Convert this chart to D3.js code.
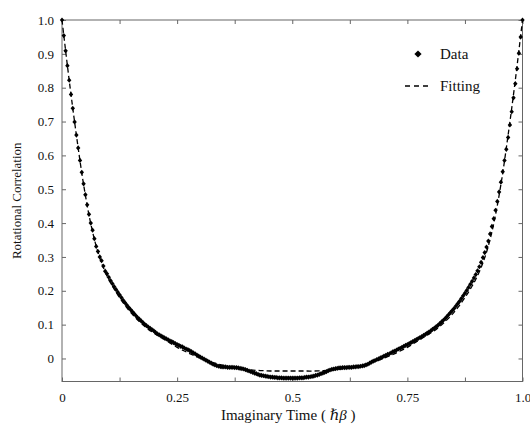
<!DOCTYPE html>
<html>
<head>
<meta charset="utf-8">
<script src="https://cdn.jsdelivr.net/npm/d3@7"></script>
<style>
  html, body { margin: 0; padding: 0; background: #fff; }
  svg { display: block; }
  svg text { font-family: "Liberation Serif", "DejaVu Serif", "Times New Roman", serif !important; fill: #111; }
</style>
</head>
<body>
<svg id="chart" width="530" height="429"></svg>
<script>
// ---------------- data ----------------
const timeSlices = 256; // data points at t = i / 256 (in units of ħβ)
const dataValues = [
  1.000, 0.954, 0.909, 0.865, 0.822, 0.780, 0.739, 0.699, 0.660, 0.622,
  0.585, 0.550, 0.516, 0.484, 0.454, 0.426, 0.400, 0.379, 0.354, 0.331,
  0.316, 0.300, 0.289, 0.273, 0.258, 0.250, 0.240, 0.230, 0.221, 0.212,
  0.204, 0.196, 0.188, 0.180, 0.172, 0.165, 0.158, 0.151, 0.145, 0.139,
  0.133, 0.127, 0.121, 0.116, 0.111, 0.106, 0.101, 0.097, 0.093, 0.089,
  0.085, 0.082, 0.077, 0.073, 0.070, 0.067, 0.064, 0.061, 0.058, 0.055,
  0.052, 0.050, 0.047, 0.044, 0.041, 0.039, 0.036, 0.034, 0.031, 0.028,
  0.026, 0.023, 0.020, 0.017, 0.014, 0.010, 0.007, 0.004, 0.001, -0.002,
  -0.005, -0.008, -0.011, -0.014, -0.017, -0.019, -0.021, -0.023, -0.024, -0.025,
  -0.025, -0.025, -0.026, -0.026, -0.026, -0.026, -0.027, -0.027, -0.028, -0.029,
  -0.030, -0.031, -0.033, -0.035, -0.037, -0.039, -0.041, -0.043, -0.045, -0.047,
  -0.049, -0.050, -0.051, -0.052, -0.053, -0.054, -0.055, -0.055, -0.056, -0.056,
  -0.057, -0.057, -0.057, -0.058, -0.058, -0.058, -0.058, -0.058, -0.058,
  -0.058, -0.058, -0.058, -0.057, -0.057, -0.057, -0.056, -0.055, -0.055, -0.054,
  -0.053, -0.052, -0.050, -0.049, -0.047, -0.045, -0.043, -0.041, -0.039, -0.036,
  -0.034, -0.032, -0.031, -0.030, -0.029, -0.028, -0.028, -0.027, -0.027, -0.027,
  -0.026, -0.026, -0.026, -0.025, -0.025, -0.024, -0.024, -0.023, -0.022, -0.021,
  -0.019, -0.017, -0.014, -0.011, -0.008, -0.006, -0.003, -0.001, 0.002, 0.004,
  0.007, 0.009, 0.012, 0.014, 0.017, 0.020, 0.022, 0.025, 0.028, 0.030,
  0.033, 0.036, 0.039, 0.041, 0.044, 0.047, 0.050, 0.053, 0.056, 0.059,
  0.062, 0.065, 0.068, 0.071, 0.075, 0.078, 0.082, 0.086, 0.090, 0.094,
  0.098, 0.103, 0.108, 0.113, 0.118, 0.124, 0.130, 0.136, 0.142, 0.148,
  0.155, 0.162, 0.169, 0.177, 0.185, 0.193, 0.201, 0.210, 0.219, 0.228,
  0.238, 0.248, 0.259, 0.271, 0.284, 0.298, 0.313, 0.329, 0.347, 0.368,
  0.390, 0.413, 0.438, 0.464, 0.492, 0.521, 0.552, 0.585, 0.618, 0.653,
  0.690, 0.729, 0.770, 0.812, 0.856, 0.902, 0.950, 1.000
];

const fitSteps = 64; // fitting curve sampled at t = k / 64
const fitValues = [
  1.000, 0.822, 0.660, 0.514, 0.398, 0.314, 0.256, 0.214, 0.180, 0.150,
  0.125, 0.104, 0.086, 0.072, 0.059, 0.046, 0.033, 0.022, 0.012, 0.003,
  -0.005, -0.012, -0.018, -0.023, -0.027, -0.030, -0.033, -0.035, -0.036, -0.037,
  -0.037, -0.037, -0.037, -0.037, -0.037, -0.037, -0.036, -0.035, -0.033, -0.030,
  -0.027, -0.023, -0.018, -0.012, -0.005, 0.003, 0.012, 0.022, 0.033, 0.046,
  0.059, 0.072, 0.086, 0.104, 0.125, 0.150, 0.180, 0.214, 0.256, 0.314,
  0.398, 0.514, 0.660, 0.822, 1.000
];

const xTickValues = [0, 0.125, 0.25, 0.375, 0.5, 0.625, 0.75, 0.875, 1.0];
const xTickLabels = ["0", "", "0.25", "", "0.5", "", "0.75", "", "1.0"];
const yTickValues = [0, 0.1, 0.2, 0.3, 0.4, 0.5, 0.6, 0.7, 0.8, 0.9, 1.0];
const yTickLabels = ["0", "0.1", "0.2", "0.3", "0.4", "0.5", "0.6", "0.7", "0.8", "0.9", "1.0"];
const legendLabels = ["Data", "Fitting"];
const xTitle = "Imaginary Time ( ";
const yTitle = "Rotational Correlation";

// ---------------- layout ----------------
const FONT = "Liberation Serif, DejaVu Serif, Times New Roman, serif";
const svg = d3.select("#chart");
const L = 62, R = 522.5, T = 20, B = 381.5;
const x = d3.scaleLinear().domain([0, 1]).range([L, R]);
const y = d3.scaleLinear().domain([-0.068, 1.0]).range([B, T]);
const axisColor = "#666";

// frame
svg.append("rect")
  .attr("x", L).attr("y", T).attr("width", R - L).attr("height", B - T)
  .attr("fill", "none").attr("stroke", axisColor).attr("stroke-width", 1);

function styleAxis(g) {
  g.attr("font-family", FONT);
  g.select(".domain").remove();
  g.selectAll(".tick line").attr("stroke", axisColor);
  g.selectAll("text").attr("font-family", FONT).attr("font-size", 13).attr("fill", "#111");
}

svg.append("g").attr("transform", `translate(0,${B})`)
  .call(d3.axisBottom(x).tickValues(xTickValues).tickSize(-4).tickPadding(11)
    .tickFormat((d, i) => xTickLabels[i]))
  .call(styleAxis);
svg.append("g").attr("transform", `translate(0,${T})`)
  .call(d3.axisTop(x).tickValues(xTickValues).tickSize(-4).tickFormat(""))
  .call(styleAxis);
svg.append("g").attr("transform", `translate(${L},0)`)
  .call(d3.axisLeft(y).tickValues(yTickValues).tickSize(-4).tickPadding(8)
    .tickFormat((d, i) => yTickLabels[i]))
  .call(styleAxis);
svg.append("g").attr("transform", `translate(${R},0)`)
  .call(d3.axisRight(y).tickValues(yTickValues).tickSize(-4).tickFormat(""))
  .call(styleAxis);

// titles
const xt = svg.append("text")
  .attr("x", (L + R) / 2 - 4).attr("y", 420)
  .attr("font-family", FONT)
  .attr("text-anchor", "middle").attr("font-size", 15);
xt.append("tspan").text(xTitle);
xt.append("tspan").attr("font-style", "italic").text("\u210F\u03B2");
xt.append("tspan").text(" )");

svg.append("text")
  .attr("transform", `translate(21,${(T + B) / 2}) rotate(-90)`)
  .attr("font-family", FONT)
  .attr("text-anchor", "middle").attr("font-size", 13).text(yTitle);

// data markers (diamonds)
const diamond = (w, h) => `M0,${-h}L${w},0L0,${h}L${-w},0Z`;
svg.append("g").selectAll("path")
  .data(dataValues)
  .join("path")
  .attr("d", diamond(2.2, 2.6))
  .attr("transform", (d, i) => `translate(${x(i / timeSlices)},${y(d)})`)
  .attr("fill", "#000");

// fitting line
const fitLine = d3.line()
  .x((d, k) => x(k / fitSteps))
  .y(d => y(d))
  .curve(d3.curveCatmullRom.alpha(0.5));
svg.append("path")
  .datum(fitValues)
  .attr("d", fitLine)
  .attr("fill", "none").attr("stroke", "#000")
  .attr("stroke-width", 1.3).attr("stroke-dasharray", "5,3");

// legend
const lg = svg.append("g").attr("font-family", FONT);
lg.append("path").attr("d", diamond(3.6, 3.6))
  .attr("transform", "translate(418,54)").attr("fill", "#000");
lg.append("text").attr("x", 440).attr("y", 59).attr("font-family", FONT).attr("font-size", 15).text(legendLabels[0]);
lg.append("line").attr("x1", 405).attr("x2", 429).attr("y1", 86).attr("y2", 86)
  .attr("stroke", "#000").attr("stroke-width", 1.3).attr("stroke-dasharray", "5,4");
lg.append("text").attr("x", 440).attr("y", 91).attr("font-family", FONT).attr("font-size", 15).text(legendLabels[1]);
</script>
</body>
</html>
